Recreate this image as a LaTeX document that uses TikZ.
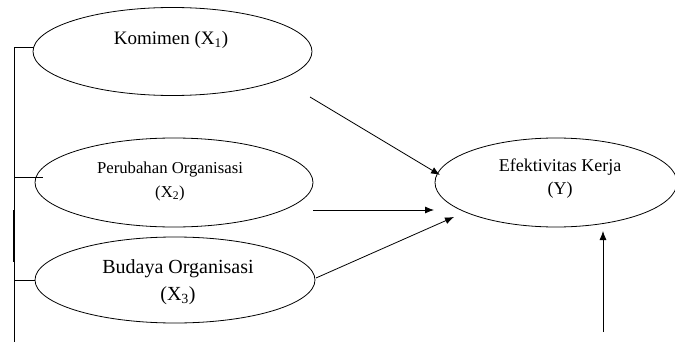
\documentclass[tikz,border=0pt]{standalone}
\usepackage{fontspec}
\setmainfont{Liberation Serif}
\usetikzlibrary{shapes.geometric,arrows.meta}
\begin{document}
\begin{tikzpicture}[x=1pt,y=-1pt,
  oval/.style={draw,ellipse,line width=0.8pt,inner sep=0pt},
  lbl/.style={inner sep=0pt,align=center},
  ln/.style={line width=0.8pt},
  arr/.style={line width=0.8pt,-{Latex[length=9pt,width=7pt]}}]
\useasboundingbox (0,0) rectangle (675,353);
% ellipses
\node[oval,minimum width=279pt,minimum height=88pt] (e1) at (172.5,51.5) {};
\node[oval,minimum width=278pt,minimum height=89pt] (e2) at (174,182.5) {};
\node[oval,minimum width=280pt,minimum height=86pt] (e3) at (175,280) {};
\node[oval,minimum width=242pt,minimum height=89pt] (ey) at (556,182.5) {};
% texts
\node[lbl,font=\fontsize{19}{23}\selectfont] (t1) at (171,40) {Komimen (X\textsubscript{1})};
\node[lbl,font=\fontsize{16.7}{24}\selectfont] (t2) at (170,181) {Perubahan Organisasi\\(X\textsubscript{2})};
\node[lbl,font=\fontsize{20}{27}\selectfont] (t3) at (178,282) {Budaya Organisasi\\(X\textsubscript{3})};
\node[lbl,font=\fontsize{18}{23}\selectfont] (ty) at (560,179) {Efektivitas Kerja\\(Y)};
% left bracket line
\coordinate (vtop) at (14,47);
\coordinate (vbot) at (14,342);
\coordinate (s1) at (33.5,47);
\coordinate (s2a) at (14,177);
\coordinate (s2) at (43,177);
\coordinate (s3a) at (14,280);
\coordinate (s3) at (35,280);
\coordinate (ka) at (13.5,210);
\coordinate (kb) at (13.5,262);
\draw[ln] (s1) -- (vtop) -- (vbot);
\draw[ln] (s2a) -- (s2);
\draw[ln] (s3a) -- (s3);
\draw[line width=2pt] (ka) -- (kb);
% arrows
\coordinate (a1s) at (310,97);
\coordinate (a1e) at (440,175);
\coordinate (a2s) at (313,210);
\coordinate (a2e) at (434,210);
\coordinate (a3s) at (316,278);
\coordinate (a3e) at (454,217);
\coordinate (a4s) at (603,332);
\coordinate (a4e) at (603,231);
\draw[arr] (a1s) -- (a1e);
\draw[arr] (a2s) -- (a2e);
\draw[arr] (a3s) -- (a3e);
\draw[arr] (a4s) -- (a4e);
\end{tikzpicture}
\end{document}
